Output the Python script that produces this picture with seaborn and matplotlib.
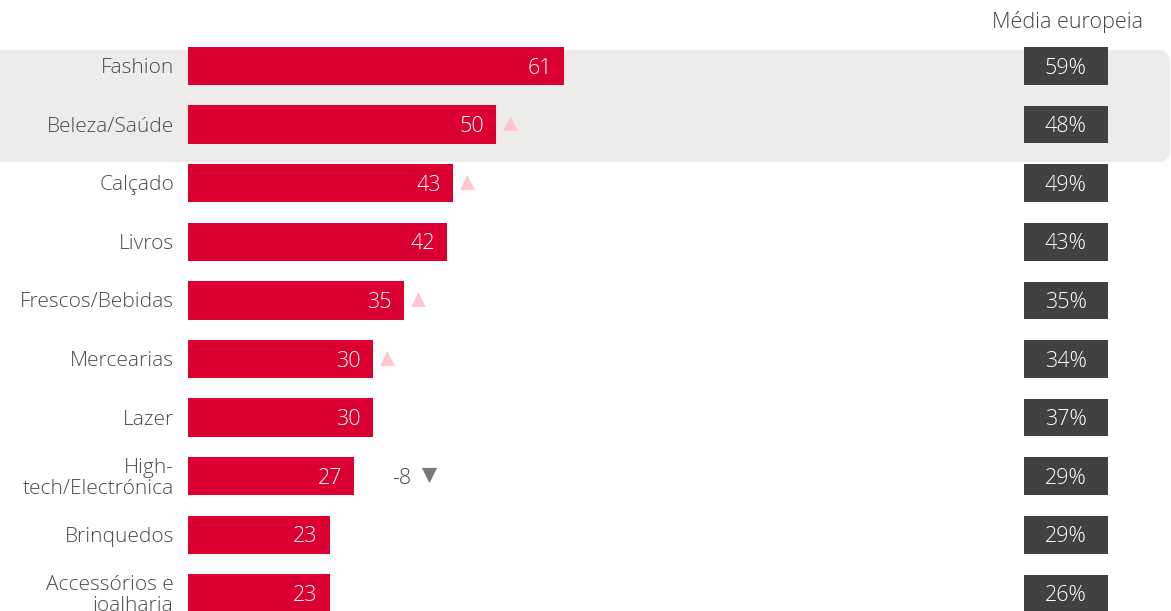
import matplotlib
matplotlib.use("Agg")
import matplotlib.pyplot as plt
import seaborn as sns
import pandas as pd
from matplotlib.patches import FancyBboxPatch

categorias = ["Fashion", "Beleza/Saúde", "Calçado", "Livros", "Frescos/Bebidas",
              "Mercearias", "Lazer", "High-\ntech/Electrónica", "Brinquedos",
              "Accessórios e\njoalharia"]
valores = [61, 50, 43, 42, 35, 30, 30, 27, 23, 23]
media_europeia = [59, 48, 49, 43, 35, 34, 37, 29, 29, 26]
subida = [False, True, True, False, True, True, False, False, False, False]
variacao = ["", "", "", "", "", "", "", "-8", "", ""]

sns.set_theme(style="white")
plt.rcParams["font.family"] = ["Open Sans", "DejaVu Sans"]
plt.rcParams["font.weight"] = "light"

RED = "#DC0032"
DARK = "#414042"
BAND = "#EDECEA"
TXT = "#4A4A4A"

fig = plt.figure(figsize=(11.71, 6.11), dpi=100)
ax = fig.add_axes([0, 0, 1, 1])

df = pd.DataFrame({"categoria": categorias, "valor": valores})
sns.barplot(data=df, x="valor", y="categoria", orient="h", color=RED,
            width=0.655, linewidth=0, saturation=1, ax=ax, zorder=3)

ax.set_xlim(-30.5, 159.5)
ax.set_ylim(9.30, -1.126)
ax.axis("off")

# fundo cinzento das linhas em destaque (arredondado à direita)
y_top = 611 - 50
y_bot = 611 - 162
band = FancyBboxPatch((-0.3, y_bot / 100), 12.0, (y_top - y_bot) / 100,
                      boxstyle="round,pad=0,rounding_size=0.12",
                      transform=fig.dpi_scale_trans, facecolor=BAND,
                      edgecolor="none", zorder=0)
ax.add_patch(band)

px = 1 / 6.164  # data units per pixel
n = len(categorias)
ys = list(range(n))

# caixas da média europeia
box_left = (1024 - 188) * px
box_w = (1108 - 1024) * px
ax.barh(ys, [box_w] * n, left=box_left, height=0.64, color=DARK,
        linewidth=0, edgecolor="none", zorder=3)

dy = 0.035
for i, (cat, v, m, up, var) in enumerate(zip(categorias, valores, media_europeia, subida, variacao)):
    ax.text(-14 * px, i + dy, cat, ha="right", va="center", fontsize=15,
            color=TXT, linespacing=1.1, zorder=4)
    ax.text(v - 12 * px, i + dy, f"{v}", ha="right", va="center", fontsize=15.5,
            color="white", zorder=4)
    ax.text(box_left + box_w / 2, i + dy, f"{m}%", ha="center", va="center",
            fontsize=15.5, color="white", zorder=4)
    if up:
        ax.scatter([v + 14 * px], [i - 0.02], marker="^", s=110,
                   color="#FFC4CF", linewidths=0, zorder=4)
    if var:
        ax.text(v + 38 * px, i + dy, var, ha="left", va="center", fontsize=15.5,
                color="#4A4A4A", zorder=4)
        ax.scatter([v + 75 * px], [i - 0.02], marker="v", s=120,
                   color="#77787B", linewidths=0, zorder=4)

ax.text(1143, 611 - 22, "Média europeia", transform=None, ha="right",
        va="center", fontsize=15.5, color="#444444")

fig.savefig("out.png", dpi=100)
